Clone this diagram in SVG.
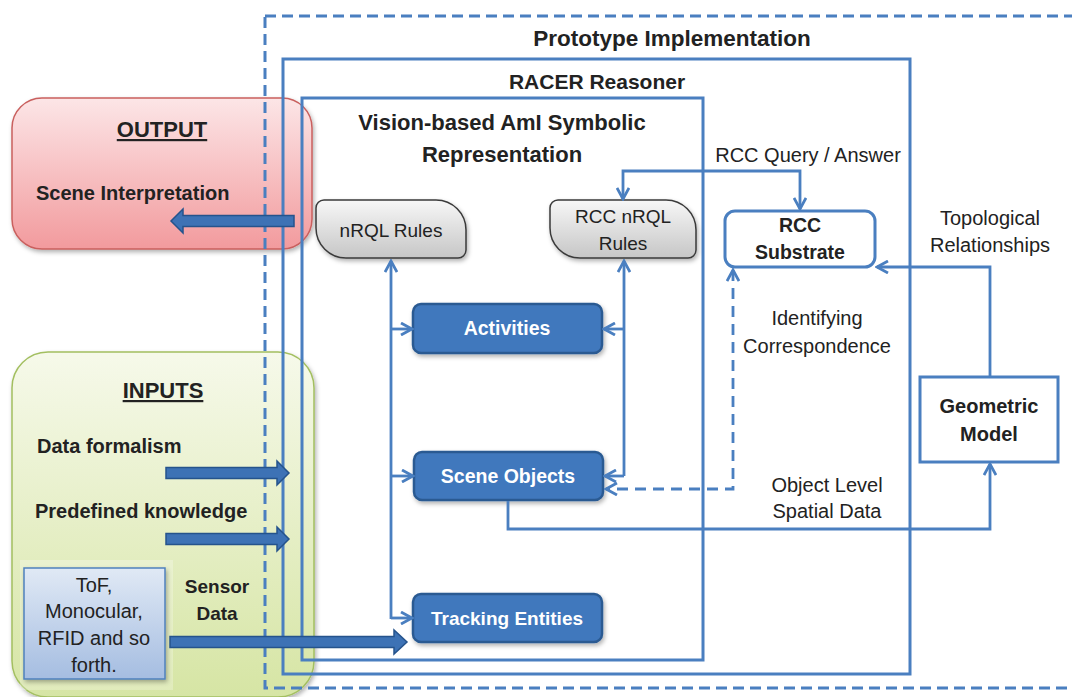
<svg xmlns="http://www.w3.org/2000/svg" width="1072" height="697" viewBox="0 0 1072 697">
<defs>
<linearGradient id="gOut" x1="0" y1="0" x2="0" y2="1"><stop offset="0" stop-color="#fce6e7"/><stop offset="1" stop-color="#f29a9d"/></linearGradient>
<linearGradient id="gIn" x1="0" y1="0" x2="0" y2="1"><stop offset="0" stop-color="#f6f9ea"/><stop offset="1" stop-color="#d6e5a4"/></linearGradient>
<linearGradient id="gTof" x1="0" y1="0" x2="0" y2="1"><stop offset="0" stop-color="#e0e9f5"/><stop offset="1" stop-color="#a5bde1"/></linearGradient>
<linearGradient id="gGray" x1="0" y1="0" x2="0" y2="1"><stop offset="0" stop-color="#f7f7f7"/><stop offset="1" stop-color="#c6c6c6"/></linearGradient>
<filter id="sh" x="-10%" y="-10%" width="130%" height="140%"><feDropShadow dx="1.5" dy="2.5" stdDeviation="2" flood-color="#000" flood-opacity="0.3"/></filter>
<marker id="ah" viewBox="0 0 14 14" refX="12" refY="7" markerWidth="14" markerHeight="14" markerUnits="userSpaceOnUse" orient="auto-start-reverse"><path d="M1,1 L12,7 L1,13" fill="none" stroke="#4a7fc0" stroke-width="2.8"/></marker>
</defs>
<style>
text{font-family:"Liberation Sans",Arial,sans-serif;fill:#222;}
.b{font-weight:bold;}
.w{fill:#fff;font-weight:bold;}
.c{text-anchor:middle;}
.con{fill:none;stroke:#4a7fc0;stroke-width:2.8;}
.box{fill:none;stroke:#4a7fc0;stroke-width:3;}
.blue{fill:#4178bd;stroke:#2b5a92;stroke-width:2.5;}
.fat{fill:#3d72b5;stroke:#25538c;stroke-width:1.5;}
</style>

<g id="output">
<rect x="12" y="98" width="300" height="151" rx="30" fill="url(#gOut)" stroke="#c9605e" stroke-width="1.5" filter="url(#sh)"/>
<text x="162" y="137" class="b c" font-size="22" text-decoration="underline">OUTPUT</text>
<text x="36" y="200" class="b" font-size="20">Scene Interpretation</text>
</g>

<g id="inputs">
<rect x="12" y="352" width="302" height="345" rx="36" fill="url(#gIn)" stroke="#a3bf60" stroke-width="1.5" filter="url(#sh)"/>
<text x="163" y="398" class="b c" font-size="22" text-decoration="underline">INPUTS</text>
<text x="37" y="453" class="b" font-size="20">Data formalism</text>
<text x="35" y="518" class="b" font-size="20">Predefined knowledge</text>
<text x="217" y="593" class="b c" font-size="19">Sensor</text>
<text x="217" y="620" class="b c" font-size="19">Data</text>
</g>

<g id="tof">
<rect x="20" y="560" width="153" height="130" fill="#fff" opacity="0.25"/>
<rect x="24" y="568" width="141" height="111" fill="url(#gTof)" stroke="#4f81bd" stroke-width="1.5" filter="url(#sh)"/>
<text x="94" y="592" class="c" font-size="20">ToF,</text>
<text x="94" y="618" class="c" font-size="20">Monocular,</text>
<text x="94" y="645" class="c" font-size="20">RFID and so</text>
<text x="94" y="672" class="c" font-size="20">forth.</text>
</g>

<g id="prototype">
<rect x="265" y="16" width="830" height="672" fill="none" stroke="#4a7fc0" stroke-width="3" stroke-dasharray="11 6"/>
<text x="672" y="46" class="b c" font-size="22.5">Prototype Implementation</text>
</g>

<g id="racer">
<rect x="283" y="59" width="627" height="615" class="box"/>
<text x="597" y="89" class="b c" font-size="21">RACER Reasoner</text>
</g>

<g id="vision">
<rect x="302" y="98" width="401" height="562" class="box"/>
<text x="502" y="130" class="b c" font-size="22">Vision-based AmI Symbolic</text>
<text x="502" y="162" class="b c" font-size="22">Representation</text>
</g>

<g id="nrql">
<path d="M324,200 H436 A30,30 0 0 1 466,230 V250 A8,8 0 0 1 458,258 H346 A30,30 0 0 1 316,228 V208 A8,8 0 0 1 324,200 Z" fill="url(#gGray)" stroke="#3a3a3a" stroke-width="1.5" filter="url(#sh)"/>
<text x="391" y="237" class="c" font-size="19">nRQL Rules</text>
</g>

<g id="rccnrql">
<path d="M558,200 H666 A30,30 0 0 1 696,230 V250 A8,8 0 0 1 688,258 H580 A30,30 0 0 1 550,228 V208 A8,8 0 0 1 558,200 Z" fill="url(#gGray)" stroke="#3a3a3a" stroke-width="1.5" filter="url(#sh)"/>
<text x="623" y="223" class="c" font-size="19">RCC nRQL</text>
<text x="623" y="250" class="c" font-size="19">Rules</text>
</g>

<g id="activities">
<rect x="413" y="304" width="189" height="49" rx="8" class="blue" filter="url(#sh)"/>
<text x="507" y="335" class="w c" font-size="19.5">Activities</text>
</g>

<g id="sceneobjects">
<rect x="414" y="452" width="189" height="48" rx="8" class="blue" filter="url(#sh)"/>
<text x="508" y="483" class="w c" font-size="19.5">Scene Objects</text>
</g>

<g id="tracking">
<rect x="413" y="594" width="189" height="48" rx="8" class="blue" filter="url(#sh)"/>
<text x="507" y="625" class="w c" font-size="19">Tracking Entities</text>
</g>

<g id="rccsubstrate">
<rect x="725" y="211" width="150" height="56" rx="10" fill="#fff" stroke="#4a7fc0" stroke-width="3"/>
<text x="800" y="232" class="b c" font-size="19.5">RCC</text>
<text x="800" y="259" class="b c" font-size="19.5">Substrate</text>
</g>

<g id="geometric">
<rect x="920" y="377" width="138" height="85" fill="#fff" stroke="#4a7fc0" stroke-width="3"/>
<text x="989" y="413" class="b c" font-size="20">Geometric</text>
<text x="989" y="441" class="b c" font-size="20">Model</text>
</g>

<g id="connectors">
<polygon class="fat" points="294,215.5 183,215.5 183,209 171,221 183,233 183,226.5 294,226.5"/>
<polygon class="fat" points="166,467.5 277,467.5 277,461 289,473 277,485 277,478.5 166,478.5"/>
<polygon class="fat" points="166,533.5 277,533.5 277,527 289,539 277,551 277,544.5 166,544.5"/>
<polygon class="fat" points="170,636.5 394,636.5 394,630 407,642 394,654 394,647.5 170,647.5"/>

<path class="con" d="M391,619 L391,261" marker-end="url(#ah)"/>
<path class="con" d="M391,329 L412,329" marker-end="url(#ah)"/>
<path class="con" d="M391,476 L413,476" marker-end="url(#ah)"/>
<path class="con" d="M391,618 L412,618" marker-end="url(#ah)"/>

<path class="con" d="M624,476 L624,261" marker-end="url(#ah)"/>
<path class="con" d="M624,329 L604,329" marker-end="url(#ah)"/>
<path class="con" d="M624,476 L605,476" marker-end="url(#ah)"/>

<path class="con" d="M623,199 L623,171 L800,171 L800,209" marker-start="url(#ah)" marker-end="url(#ah)"/>
<path class="con" d="M733,270 L733,489 L606,489" stroke-dasharray="11 7" marker-start="url(#ah)" marker-end="url(#ah)"/>
<path class="con" d="M508,501 L508,529 L990,529 L990,464" marker-end="url(#ah)"/>
<path class="con" d="M990,376 L990,267 L877,267" marker-end="url(#ah)"/>

<text x="808" y="162" class="c" font-size="20">RCC Query / Answer</text>
<text x="990" y="225" class="c" font-size="20">Topological</text>
<text x="990" y="252" class="c" font-size="20">Relationships</text>
<text x="817" y="325" class="c" font-size="20">Identifying</text>
<text x="817" y="353" class="c" font-size="20">Correspondence</text>
<text x="827" y="492" class="c" font-size="20">Object Level</text>
<text x="827" y="518" class="c" font-size="20">Spatial Data</text>
</g>
</svg>
